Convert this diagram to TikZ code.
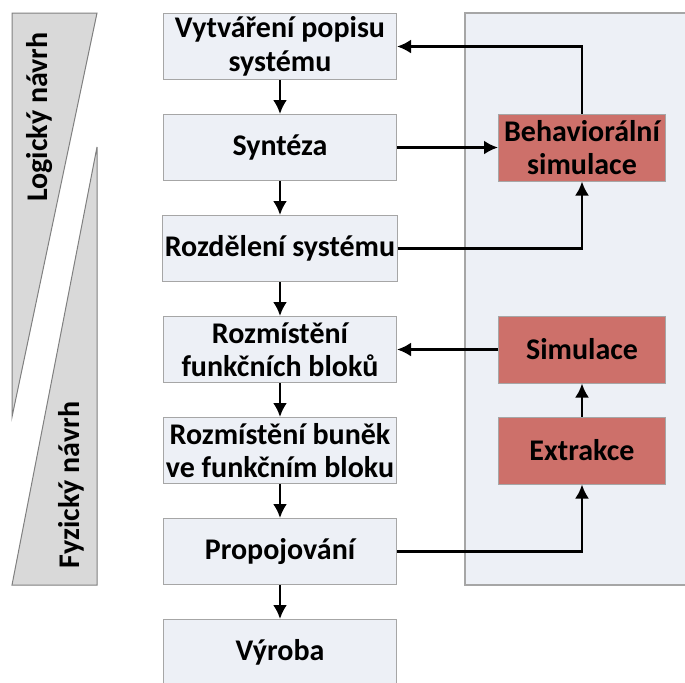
\documentclass[tikz,border=0pt]{standalone}
\usepackage{fontspec}
\setmainfont{Carlito}
\usetikzlibrary{positioning,arrows.meta}

\definecolor{boxfill}{RGB}{237,240,246}
\definecolor{boxline}{RGB}{166,166,166}
\definecolor{simred}{RGB}{205,112,106}
\definecolor{phasegray}{RGB}{217,217,217}
\definecolor{phaseline}{RGB}{128,128,128}

\begin{document}
\begin{tikzpicture}[x=0.5pt,y=-0.5pt,node distance=17pt and 50.5pt,
      process/.style={rectangle, minimum width=116.5pt, minimum height=33pt, inner sep=1pt, align=center, fill=boxfill, draw=boxline, line width=0.5pt},
      simbox/.style={rectangle, minimum width=83.5pt, minimum height=33.5pt, inner sep=1pt, align=center, fill=simred, draw=boxline, line width=0.5pt},
      phase/.style={fill=phasegray, draw=phaseline, line width=0.5pt},
      panel/.style={fill=boxfill, draw=boxline, line width=0.6pt},
      arr/.style={line width=1.3pt,-{Latex[length=7pt,width=7pt]}}
      ]
      \fontsize{15}{16.7}\selectfont\bfseries
      \useasboundingbox (0,0) rectangle (685,682);
      % phases on the left
      \filldraw[phase] (12,13) -- (97,13) -- (12,417) -- cycle;
      \filldraw[phase] (97,147) -- (97,585) -- (12,585) -- cycle;
      \node (logic) [rotate=90] at (40,117) {Logický návrh};
      \node (phys) [rotate=90] at (71,485) {Fyzický návrh};
      % simulation panel
      \filldraw[panel] (465,13) rectangle (695,585);
      \node (b1) [process] at (280,46.5) {Vytváření popisu\\systému};
      \node (b2) [process, below=of b1] {Syntéza};
      \node (b3) [process, below=of b2] {Rozdělení systému};
      \node (b4) [process, below=of b3] {Rozmístění\\funkčních bloků};
      \node (b5) [process, below=of b4] {Rozmístění buněk\\ve funkčním bloku};
      \node (b6) [process, below=of b5] {Propojování};
      \node (b7) [process, below=of b6] {Výroba};
      \draw[arr] (b1) -- (b2);
      \draw[arr] (b2) -- (b3);
      \draw[arr] (b3) -- (b4);
      \draw[arr] (b4) -- (b5);
      \draw[arr] (b5) -- (b6);
      \draw[arr] (b6) -- (b7);
      \node (behav) [simbox, right=of b2] {Behaviorální\\simulace};
      \node (sim) [simbox, right=of b4] {Simulace};
      \node (extr) [simbox, right=of b5] {Extrakce};
      \draw[arr] (behav.north) |- (b1.east);
      \draw[arr] (b2.east) -- (behav.west);
      \draw[arr] (b3.east) -| (behav.south);
      \draw[arr] (sim.west) -- (b4.east);
      \draw[arr] (extr) -- (sim);
      \draw[arr] (b6.east) -| (extr.south);
\end{tikzpicture}
\end{document}
